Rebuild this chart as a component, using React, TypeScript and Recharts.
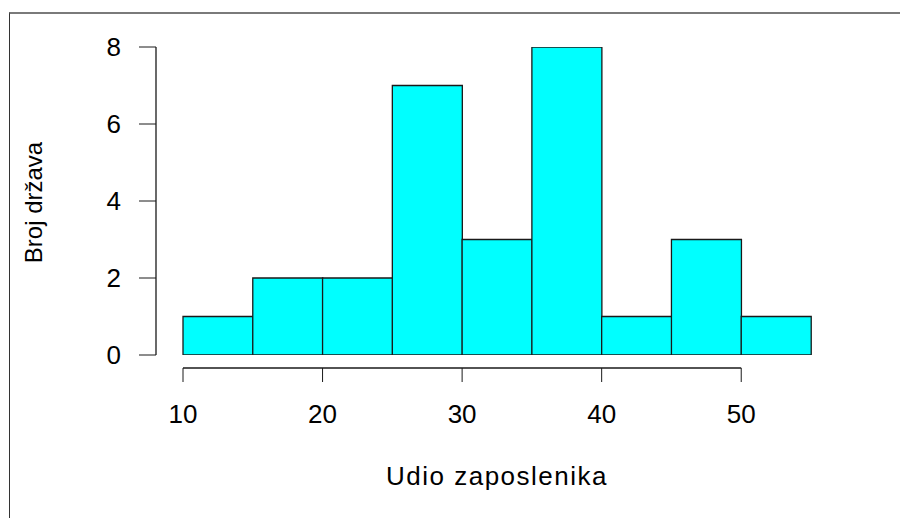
import React from 'react';
import { ComposedChart, Bar, XAxis, YAxis, ReferenceLine } from 'recharts';

const binStarts = [10, 15, 20, 25, 30, 35, 40, 45, 50];
const binEnds = [15, 20, 25, 30, 35, 40, 45, 50, 55];
const counts = [1, 2, 2, 7, 3, 8, 1, 3, 1];
const xTicks = [10, 20, 30, 40, 50];
const yTicks = [0, 2, 4, 6, 8];
const xTitle = 'Udio zaposlenika';
const yTitle = 'Broj država';

const data = binStarts.map((s, i) => ({ bin: `${s}-${binEnds[i]}`, start: s, end: binEnds[i], count: counts[i] }));

const FONT = '"Liberation Sans", Arial, sans-serif';
const INK = '#1a1a1a';

export default function App() {
  return (
    <div style={{ position: 'absolute', left: 0, top: 0, width: 900, height: 518, background: '#fff', overflow: 'hidden' }}>
      <div
        style={{
          position: 'absolute',
          left: 9,
          top: 12,
          width: 900,
          height: 520,
          borderTop: '2px solid #7a7a7a',
          borderLeft: '1px solid #333',
          boxSizing: 'border-box',
        }}
      />
      <div style={{ position: 'absolute', left: 0, top: 0 }}>
        <ComposedChart
          width={900}
          height={518}
          data={data}
          margin={{ top: 47, right: 89, bottom: 0, left: 0 }}
          barCategoryGap={0}
          barGap={0}
        >
          <XAxis
            xAxisId="num"
            dataKey="end"
            type="number"
            scale="linear"
            domain={[10, 55]}
            allowDataOverflow
            ticks={xTicks}
            interval={0}
            padding={{ left: 27, right: 0 }}
            axisLine={false}
            tickLine={{ stroke: INK, strokeWidth: 1 }}
            tickSize={14}
            tickMargin={23}
            height={150}
            tick={{ fill: '#000', fontSize: 26, fontFamily: FONT }}
            label={{
              value: xTitle,
              position: 'insideBottom',
              offset: 33,
              dx: 13.5,
              style: { fill: '#000', fontSize: 26, fontFamily: FONT, letterSpacing: 1.5 },
            }}
          />
          <YAxis
            yAxisId="count"
            type="number"
            domain={[0, 8]}
            allowDataOverflow
            ticks={yTicks}
            interval={0}
            padding={{ top: 0, bottom: 13 }}
            width={156}
            axisLine={false}
            tickLine={{ stroke: INK, strokeWidth: 1 }}
            tickSize={17}
            tickMargin={18}
            tick={{ fill: '#000', fontSize: 26, fontFamily: FONT }}
            label={{
              value: yTitle,
              angle: -90,
              position: 'insideLeft',
              offset: 33,
              dy: -5,
              style: { textAnchor: 'middle', fill: '#000', fontSize: 24, fontFamily: FONT },
            }}
          />
          <XAxis xAxisId="cat" dataKey="bin" type="category" hide height={0} padding={{ left: 27, right: 0 }} />
          <XAxis xAxisId="frame" type="number" domain={[0, 1]} allowDataOverflow hide height={0} />
          <YAxis yAxisId="frame" type="number" domain={[0, 1]} allowDataOverflow hide width={0} />
          <Bar
            xAxisId="cat"
            yAxisId="count"
            dataKey="count"
            fill="#00ffff"
            stroke={INK}
            strokeWidth={1.3}
            isAnimationActive={false}
          />
          <ReferenceLine
            xAxisId="frame"
            yAxisId="count"
            segment={[{ x: 0, y: 0 }, { x: 0, y: 8 }]}
            stroke={INK}
            strokeWidth={1.3}
            ifOverflow="visible"
          />
          <ReferenceLine
            xAxisId="num"
            yAxisId="frame"
            segment={[{ x: 10, y: 0 }, { x: 50, y: 0 }]}
            stroke={INK}
            strokeWidth={1.3}
            ifOverflow="visible"
          />
        </ComposedChart>
      </div>
    </div>
  );
}
